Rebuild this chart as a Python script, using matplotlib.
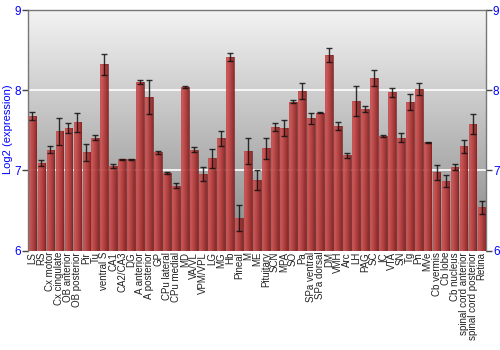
import matplotlib
matplotlib.use("Agg")
import matplotlib.pyplot as plt
import numpy as np
from matplotlib.colors import LinearSegmentedColormap

regions = ["LS", "RS", "Cx motor", "Cx cingulate", "OB anterior", "OB posterior", "Pir", "Tu",
           "ventral S", "CA1", "CA2/CA3", "DG", "A anterior", "A posterior", "GP", "CPu lateral",
           "CPu medial", "MD", "VA/VL", "VPM/VPL", "LG", "MG", "Hb", "Pineal", "M", "ME",
           "Pituitary", "SCN", "MPA", "SO", "Pa", "SPa ventral", "SPa dorsal", "DM", "VMH", "Arc",
           "LH", "PAG", "SC", "IC", "VTA", "SN", "Tg", "Pn", "MVe", "Cb vermis", "Cb lobe",
           "Cb nucleus", "spinal cord anterior", "spinal cord posterior", "Retina"]

values = [7.675, 7.09, 7.26, 7.49, 7.53, 7.60, 7.225, 7.41,
          8.325, 7.05, 7.14, 7.14, 8.108, 7.917, 7.225, 6.97,
          6.81, 8.04, 7.26, 6.955, 7.15, 7.40, 8.41, 6.41, 7.24, 6.88,
          7.275, 7.54, 7.53, 7.86, 7.99, 7.65, 7.72, 8.44, 7.55, 7.19,
          7.867, 7.77, 8.154, 7.43, 7.975, 7.41, 7.86, 8.02, 7.35, 6.975, 6.87,
          7.045, 7.30, 7.58, 6.54]

errors = [0.05, 0.04, 0.045, 0.17, 0.06, 0.12, 0.11, 0.03,
          0.13, 0.025, 0.005, 0.005, 0.025, 0.21, 0.015, 0.01,
          0.03, 0.01, 0.03, 0.09, 0.12, 0.09, 0.05, 0.16, 0.16, 0.125,
          0.13, 0.05, 0.10, 0.02, 0.10, 0.07, 0.005, 0.09, 0.05, 0.03,
          0.19, 0.035, 0.10, 0.01, 0.055, 0.06, 0.10, 0.075, 0.01, 0.095, 0.075,
          0.04, 0.08, 0.12, 0.085]

yticks = [6, 7, 8, 9]

plt.rcParams['font.family'] = ['Liberation Sans', 'DejaVu Sans']

fig = plt.figure(figsize=(5, 3.5), dpi=100)
ax = fig.add_axes([0.056, 0.284, 0.916, 0.687])

ymin, ymax = 6, 9
x = np.arange(len(regions))
ax.set_xlim(-0.5, len(regions) - 0.5)
ax.set_ylim(ymin, ymax)

# background vertical gradient
bg = LinearSegmentedColormap.from_list("bg", ["#868686", "#f3f3f3"])
grad = np.linspace(0, 1, 256).reshape(-1, 1)
ax.imshow(grad, aspect='auto', cmap=bg, origin='lower',
          extent=[-0.5, len(regions) - 0.5, ymin, ymax], zorder=0)

for yv in [7, 8]:
    ax.axhline(yv, color='white', lw=1.2, zorder=1)

bars = ax.bar(x, [v - ymin for v in values], bottom=ymin, width=0.86,
              color='none', edgecolor='#6e1414', linewidth=0.5, zorder=2)

barcm = LinearSegmentedColormap.from_list("bar", ["#d25a5a", "#b83c3c", "#8a2020"])
hgrad = np.linspace(0, 1, 64).reshape(1, -1)
for b in bars:
    x0 = b.get_x()
    w = b.get_width()
    y0 = b.get_y()
    h = b.get_height()
    im = ax.imshow(hgrad, aspect='auto', cmap=barcm, alpha=0.92,
                   extent=[x0, x0 + w, y0, y0 + h], zorder=2)
    im.set_clip_path(b)

ax.errorbar(x, values, yerr=errors, fmt='none', ecolor='#111111', elinewidth=1,
            capsize=2, capthick=1, alpha=0.85, zorder=3)

ax.set_xlim(-0.5, len(regions) - 0.5)
ax.set_ylim(ymin, ymax)

ax.set_xticks(x)
ax.set_xticklabels(regions, rotation=90, fontsize=7, color='#222222')
ax.tick_params(axis='x', length=0, pad=1)

ax.set_yticks(yticks)
ax.set_yticklabels([str(t) for t in yticks])
ax.tick_params(axis='y', which='both', direction='out', length=4, width=1,
               color='#444444', labelcolor='#0000ff', labelsize=8.5, pad=1,
               left=True, right=True, labelleft=True, labelright=True)

fig.text(0.016, 0.63, "Log2 (expression)", color='#0000ff', fontsize=8,
         rotation=90, ha='center', va='center')

for side in ['top', 'left', 'right']:
    ax.spines[side].set_color('#777777')
    ax.spines[side].set_linewidth(1)
ax.spines['bottom'].set_visible(False)

fig.savefig("out.png", dpi=100)
